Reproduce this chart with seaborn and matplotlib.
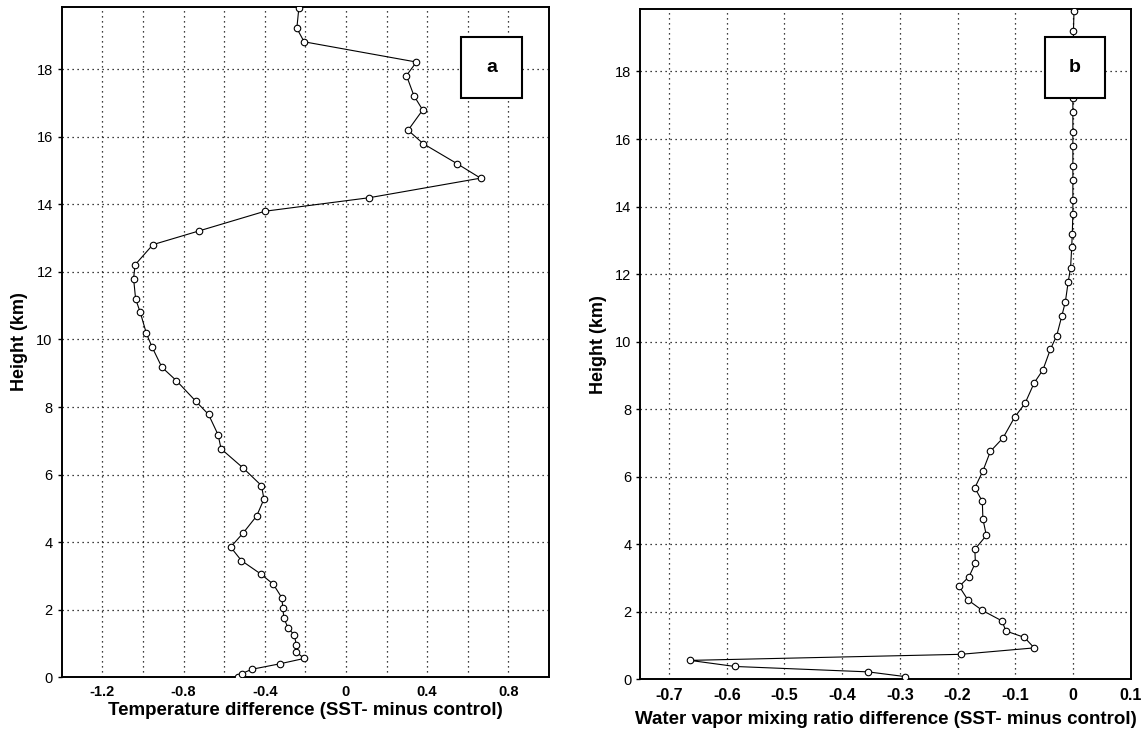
import matplotlib.pyplot as plt
import seaborn as sns
import pandas as pd
from matplotlib.patches import Rectangle

# Panel a: temperature difference profile
height_a = [0.01, 0.10, 0.23, 0.39, 0.55, 0.74, 0.95, 1.25, 1.45, 1.75, 2.05, 2.35,
            2.75, 3.05, 3.45, 3.85, 4.27, 4.77, 5.27, 5.67, 6.19, 6.76, 7.18, 7.78,
            8.18, 8.78, 9.18, 9.79, 10.18, 10.80, 11.20, 11.80, 12.21, 12.81, 13.22,
            13.80, 14.20, 14.78, 15.21, 15.80, 16.20, 16.80, 17.22, 17.82, 18.22,
            18.82, 19.22, 19.82]
temp_diff = [-0.532, -0.514, -0.463, -0.327, -0.206, -0.244, -0.244, -0.255, -0.285,
             -0.306, -0.311, -0.316, -0.358, -0.419, -0.515, -0.568, -0.506, -0.440,
             -0.404, -0.416, -0.506, -0.615, -0.630, -0.677, -0.741, -0.835, -0.907,
             -0.956, -0.983, -1.013, -1.036, -1.046, -1.039, -0.951, -0.722, -0.399,
             0.114, 0.663, 0.547, 0.381, 0.306, 0.378, 0.335, 0.298, 0.347, -0.206,
             -0.242, -0.232]

# Panel b: water vapor mixing ratio difference profile
height_b = [0.08, 0.22, 0.38, 0.56, 0.74, 0.93, 1.24, 1.43, 1.73, 2.04, 2.35, 2.75,
            3.04, 3.45, 3.85, 4.26, 4.75, 5.27, 5.67, 6.17, 6.75, 7.15, 7.76, 8.17,
            8.78, 9.16, 9.77, 10.18, 10.77, 11.18, 11.78, 12.18, 12.80, 13.20, 13.79,
            14.18, 14.78, 15.20, 15.80, 16.20, 16.79, 17.20, 17.80, 18.20, 18.80,
            19.20, 19.80]
vapor_diff = [-0.291, -0.355, -0.586, -0.664, -0.194, -0.067, -0.084, -0.116, -0.123,
              -0.157, -0.182, -0.197, -0.180, -0.169, -0.170, -0.150, -0.156, -0.157,
              -0.170, -0.156, -0.143, -0.121, -0.101, -0.083, -0.067, -0.052, -0.039,
              -0.028, -0.019, -0.013, -0.008, -0.004, -0.002, -0.001, 0.0, 0.0, 0.0,
              0.0, 0.0, 0.0, 0.0, 0.0, 0.001, 0.001, 0.001, 0.001, 0.002]

ticks_a = [-1.2, -0.8, -0.4, 0, 0.4, 0.8]
tick_labels_a = ['-1.2', '-0.8', '-0.4', '0', '0.4', '0.8']
ticks_b = [-0.7, -0.6, -0.5, -0.4, -0.3, -0.2, -0.1, 0, 0.1]
tick_labels_b = ['-0.7', '-0.6', '-0.5', '-0.4', '-0.3', '-0.2', '-0.1', '0', '0.1']
height_ticks = [0, 2, 4, 6, 8, 10, 12, 14, 16, 18]

sns.set_style('white')
plt.rcParams['font.family'] = ['Liberation Sans', 'DejaVu Sans']
plt.rcParams.update({'text.color': 'black', 'axes.labelcolor': 'black',
                     'xtick.color': 'black', 'ytick.color': 'black'})

fig = plt.figure(figsize=(11.43, 7.32), dpi=100)
ax_a = fig.add_axes([0.054, 0.0751, 0.4263, 0.9153])
ax_b = fig.add_axes([0.5602, 0.0720, 0.4289, 0.9157])

df_a = pd.DataFrame({'x': temp_diff, 'h': height_a})
df_b = pd.DataFrame({'x': vapor_diff, 'h': height_b})

for ax, df in [(ax_a, df_a), (ax_b, df_b)]:
    sns.lineplot(data=df, x='x', y='h', sort=False, estimator=None, ax=ax,
                 color='black', linewidth=0.8, marker='o', markersize=4.7,
                 markerfacecolor='white', markeredgecolor='black',
                 markeredgewidth=0.8, zorder=3)

ax_a.set_xlim(-1.4, 1.0)
ax_a.set_xticks(ticks_a)
ax_a.set_xticklabels(tick_labels_a, fontweight='bold', fontsize=10.5)
ax_a.set_xticks([-1.0, -0.6, -0.2, 0.2, 0.6], minor=True)
ax_b.set_xlim(-0.75, 0.1)
ax_b.set_xticks(ticks_b)
ax_b.set_xticklabels(tick_labels_b, fontweight='bold', fontsize=11.5)

for ax in (ax_a, ax_b):
    ax.set_ylim(0, 19.85)
    ax.set_yticks(height_ticks)
    ax.grid(True, which='both', color='black', linestyle=(0, (1, 3)), linewidth=0.9)
    ax.tick_params(axis='x', which='both', length=0, pad=6)
    ax.tick_params(axis='y', length=3, width=1, color='black', labelsize=10.5, left=True)
    for s in ax.spines.values():
        s.set_color('black')
        s.set_linewidth(1.4)
    ax.set_ylabel('Height (km)', fontsize=13, fontweight='bold', labelpad=6)

ax_a.set_xlabel('Temperature difference (SST- minus control)', fontsize=13.5,
                fontweight='bold', labelpad=2)
ax_b.set_xlabel('Water vapor mixing ratio difference (SST- minus control)', fontsize=13.5,
                fontweight='bold', labelpad=6)

for ax, box, lab in [(ax_a, (0.8194, 0.8646, 0.1252, 0.0911), 'a'),
                     (ax_b, (0.8250, 0.8668, 0.1236, 0.0910), 'b')]:
    ax.add_patch(Rectangle(box[:2], box[2], box[3], transform=ax.transAxes,
                           facecolor='white', edgecolor='black', linewidth=1.5, zorder=5))
    ax.text(box[0] + box[2] / 2, box[1] + box[3] / 2, lab, transform=ax.transAxes,
            ha='center', va='center', fontsize=14, fontweight='bold', zorder=6)

fig.savefig('out.png', dpi=100)
